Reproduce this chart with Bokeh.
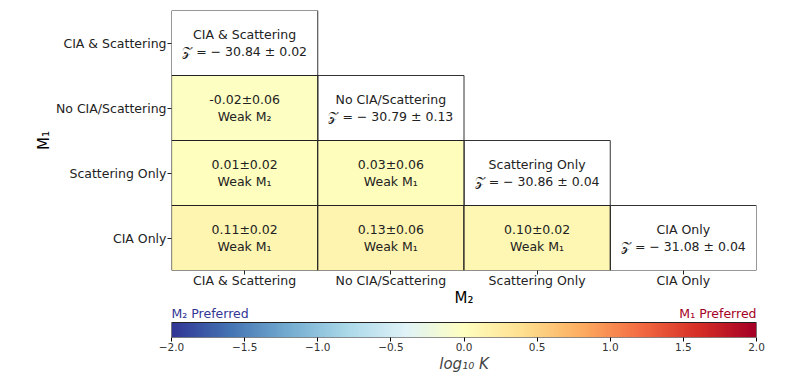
import numpy as np
from bokeh.plotting import figure
from bokeh.models import (FactorRange, Range1d, LinearColorMapper, ColumnDataSource,
                          FixedTicker)
from bokeh.transform import transform
from bokeh.palettes import RdYlBu11, interp_palette
from bokeh.layouts import column
from bokeh.embed import file_html
from bokeh.resources import INLINE
from bokeh.core.properties import value

# ---------------- data ----------------
models = ["CIA & Scattering", "No CIA/Scattering", "Scattering Only", "CIA Only"]
log_z = [-30.84, -30.79, -30.86, -31.08]
log_z_err = [0.02, 0.13, 0.04, 0.04]

pair_m1 = ["No CIA/Scattering", "Scattering Only", "Scattering Only",
           "CIA Only", "CIA Only", "CIA Only"]
pair_m2 = ["CIA & Scattering", "CIA & Scattering", "No CIA/Scattering",
           "CIA & Scattering", "No CIA/Scattering", "Scattering Only"]
log_k = [-0.02, 0.01, 0.03, 0.11, 0.13, 0.10]
log_k_err = [0.06, 0.02, 0.06, 0.02, 0.06, 0.02]
evidence = ["Weak M\u2082", "Weak M\u2081", "Weak M\u2081",
            "Weak M\u2081", "Weak M\u2081", "Weak M\u2081"]

cbar_ticks = [-2.0, -1.5, -1.0, -0.5, 0.0, 0.5, 1.0, 1.5, 2.0]
cbar_tick_labels = ["\u22122.0", "\u22121.5", "\u22121.0", "\u22120.5", "0.0",
                    "0.5", "1.0", "1.5", "2.0"]
cbar_low, cbar_high = -2.0, 2.0
pref_labels = ["M\u2082 Preferred", "M\u2081 Preferred"]
pref_colors = ["#313695", "#a50026"]

FONT = "DejaVu Sans"
TXT = "#222222"

palette = interp_palette(list(RdYlBu11), 256)
mapper = LinearColorMapper(palette=palette, low=cbar_low, high=cbar_high)

# ---------------- heatmap ----------------
p = figure(x_range=FactorRange(*models), y_range=FactorRange(*reversed(models)),
           frame_width=585, frame_height=260, min_border_left=171,
           min_border_right=36, min_border_top=10, min_border_bottom=44,
           output_backend="svg", toolbar_location=None, tools="")
p.outline_line_color = None
p.grid.visible = False
p.background_fill_color = "white"

diag_src = ColumnDataSource(dict(
    x=models, y=models,
    text=[f"{m}\n\U0001D4B5 = \u2212 {abs(z):.2f} \u00b1 {e:.2f}"
          for m, z, e in zip(models, log_z, log_z_err)]))
p.rect(x="x", y="y", width=1, height=1, source=diag_src, fill_color="white",
       line_color="#333333", line_width=1)

pair_src = ColumnDataSource(dict(
    x=pair_m2, y=pair_m1, val=log_k,
    text=[f"{v:.2f}\u00b1{e:.2f}\n{s}" for v, e, s in zip(log_k, log_k_err, evidence)]))
p.rect(x="x", y="y", width=1, height=1, source=pair_src,
       fill_color=transform("val", mapper), line_color="#222222", line_width=1.2)

for src in (diag_src, pair_src):
    p.text(x="x", y="y", text="text", source=src, text_align="center",
           text_baseline="middle", text_font=value(FONT), text_font_size="12.5px",
           text_color=TXT, text_line_height=1.1)

for ax in (p.xaxis, p.yaxis):
    ax.axis_line_color = None
    ax.major_tick_out = 4
    ax.major_tick_in = 0
    ax.major_tick_line_color = "#222222"
    ax.major_label_text_font = FONT
    ax.major_label_text_font_size = "12.5px"
    ax.major_label_text_color = TXT
    ax.major_label_standoff = 1
    ax.axis_label_text_font = FONT
    ax.axis_label_text_font_size = "15px"
    ax.axis_label_text_font_style = "normal"
    ax.axis_label_text_color = "black"
    ax.axis_label_standoff = 0
p.xaxis.major_label_standoff = -2
p.xaxis.axis_label_standoff = -2
p.xaxis.axis_label = "M\u2082"
p.yaxis.axis_label = "M\u2081"

# ---------------- colorbar ----------------
bar_frac = 15 / 33.0
c = figure(x_range=Range1d(cbar_low, cbar_high), y_range=Range1d(0, 1 / bar_frac),
           frame_width=585, frame_height=33, min_border_left=171,
           min_border_right=36, min_border_top=0, min_border_bottom=34,
           output_backend="svg", toolbar_location=None, tools="")
c.margin = (-10, 0, 0, 0)
grad = np.linspace(cbar_low, cbar_high, 512).reshape(1, -1)
c.image(image=[grad], x=cbar_low, y=0, dw=cbar_high - cbar_low, dh=1,
        color_mapper=mapper)
c.rect(x=[(cbar_low + cbar_high) / 2], y=[0.5], width=cbar_high - cbar_low, height=1,
       fill_color=None, line_color="#222222", line_width=1)
c.outline_line_color = None
c.grid.visible = False
c.yaxis.visible = False
c.xaxis.ticker = FixedTicker(ticks=cbar_ticks)
c.xaxis.major_label_overrides = {t: l for t, l in zip(cbar_ticks, cbar_tick_labels)}
c.xaxis.axis_line_color = None
c.xaxis.minor_tick_line_color = None
c.xaxis.major_tick_out = 4
c.xaxis.major_tick_in = 0
c.xaxis.major_label_text_font = FONT
c.xaxis.major_label_text_font_size = "10.5px"
c.xaxis.major_label_text_color = "#333333"
c.xaxis.major_label_standoff = 1
c.xaxis.axis_label = "log\u2081\u2080 K"
c.xaxis.axis_label_text_font = FONT
c.xaxis.axis_label_text_font_size = "15px"
c.xaxis.axis_label_text_font_style = "italic"
c.xaxis.axis_label_standoff = 1

lab_src = ColumnDataSource(dict(x=[cbar_low, cbar_high], y=[1.12, 1.12],
                                text=pref_labels, color=pref_colors,
                                align=["left", "right"]))
c.text(x="x", y="y", text="text", text_color="color", text_align="align",
       source=lab_src, text_baseline="bottom", text_font=value(FONT),
       text_font_size="12.5px")

layout = column(p, c, spacing=0)
open("out.html", "w").write(file_html(layout, INLINE))
